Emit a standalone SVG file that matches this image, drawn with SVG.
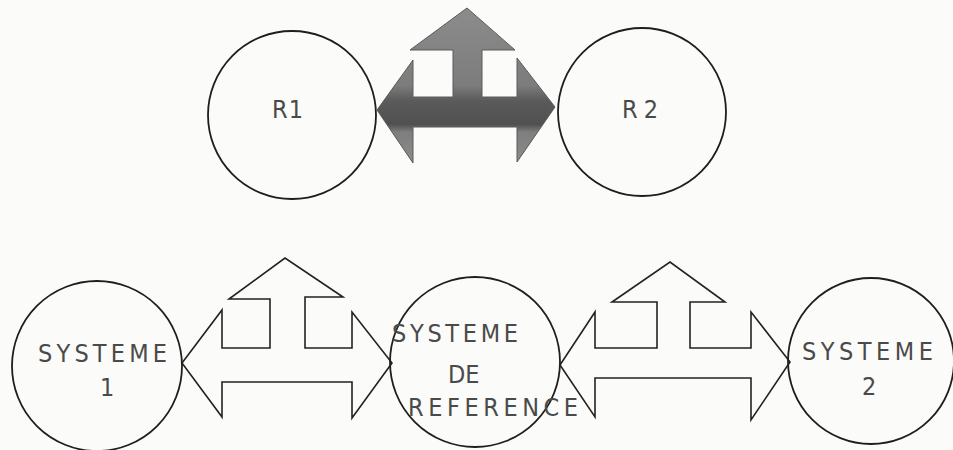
<svg xmlns="http://www.w3.org/2000/svg" width="953" height="450" viewBox="0 0 953 450">
  <defs>
    <linearGradient id="grayFill" x1="0" y1="0" x2="0" y2="1">
      <stop offset="0" stop-color="#8c8c8c"/>
      <stop offset="0.5" stop-color="#7c7c7c"/>
      <stop offset="0.6" stop-color="#5a5a5a"/>
      <stop offset="0.75" stop-color="#505050"/>
      <stop offset="0.8" stop-color="#7e7e7e"/>
      <stop offset="1" stop-color="#8c8c8c"/>
    </linearGradient>
  </defs>
  <style>
    .node { fill: none; stroke: #1e1e1e; stroke-width: 1.8; }
    .lbl { font-family: "DejaVu Sans Condensed", "Liberation Sans Narrow", "DejaVu Sans", sans-serif; font-stretch: condensed; font-size: 25px; fill: #4a4a4a; font-weight: normal; }
    .arrow { fill: none; stroke: #222; stroke-width: 1.6; stroke-linejoin: miter; }
    .arrowFilled { fill: url(#grayFill); stroke: #5a5a5a; stroke-width: 1; }
  </style>
  <rect x="0" y="0" width="953" height="450" fill="#fbfbf9"/>

  <g id="connectors">
    <polygon id="arrow-r1-r2" class="arrowFilled" points="377,110 413,60 413,97 453,97 453,50 410,50 467,8 515,50 482,50 482,97 517,97 517,58 555,107 517,162 517,127 413,127 413,163"/>
    <polygon id="arrow-s1-ref" class="arrow" points="182,363 222,310 222,348 270,348 270,299 229,299 285,258 343,297 305,297 305,348 352,348 352,312 392,363 352,418 352,382 222,382 222,417"/>
    <polygon id="arrow-ref-s2" class="arrow" points="560,365 595,312 595,348 657,348 657,302 612,302 670,262 725,302 690,302 690,348 751,348 751,312 790,362 751,420 751,378 595,378 595,417"/>
  </g>

  <g id="R1">
    <circle class="node" cx="292" cy="115" r="84"/>
    <text class="lbl" x="272" y="118" textLength="31" lengthAdjust="spacing">R1</text>
  </g>
  <g id="R2">
    <circle class="node" cx="642" cy="112" r="84"/>
    <text class="lbl" x="622" y="118" textLength="36" lengthAdjust="spacing">R2</text>
  </g>
  <g id="systeme1">
    <circle class="node" cx="97" cy="366" r="85"/>
    <text class="lbl" x="38" y="362" textLength="129" lengthAdjust="spacing">SYSTEME</text>
    <text class="lbl" x="100" y="396">1</text>
  </g>
  <g id="systemeRef">
    <circle class="node" cx="475" cy="362" r="85"/>
    <text class="lbl" x="392" y="342" textLength="126" lengthAdjust="spacing">SYSTEME</text>
    <text class="lbl" x="448" y="383">DE</text>
    <text class="lbl" x="408" y="416" textLength="170" lengthAdjust="spacing">REFERENCE</text>
  </g>
  <g id="systeme2">
    <circle class="node" cx="871" cy="361" r="83"/>
    <text class="lbl" x="802" y="360" textLength="131" lengthAdjust="spacing">SYSTEME</text>
    <text class="lbl" x="862" y="395">2</text>
  </g>
</svg>
